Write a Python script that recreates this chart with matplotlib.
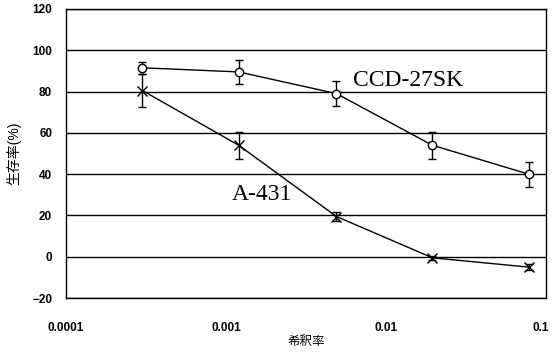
import numpy as np
import matplotlib.pyplot as plt
import matplotlib.transforms as mtransforms
from matplotlib.ticker import FixedLocator, FixedFormatter, NullLocator

plt.rcParams['font.family'] = ['Liberation Sans', 'Noto Sans CJK JP', 'DejaVu Sans']

# dilution series (1/4 steps)
dilution = [0.0003, 0.0012, 0.0049, 0.0195, 0.078]

ccd_mean = [91.5, 89.5, 79, 54, 40]
ccd_err = [3, 6, 6, 6.5, 6]

a431_mean = [80.5, 54, 19.5, -0.5, -5]
a431_err = [8, 6.5, 2, 1, 1.5]

xticks = [0.0001, 0.001, 0.01, 0.1]
xticklabels = ['0.0001', '0.001', '0.01', '0.1']
yticks = [-20, 0, 20, 40, 60, 80, 100, 120]

fig = plt.figure(figsize=(5.52, 3.57), dpi=100)
ax = fig.add_axes([0.1196, 0.165, 0.8696, 0.81])

ax.set_xscale('log')
ax.set_xlim(0.0001, 0.1)
ax.set_ylim(-20, 120)

for y in yticks:
    ax.axhline(y, color='black', lw=1.0, zorder=1)

ax.errorbar(dilution, ccd_mean, yerr=ccd_err, color='black', lw=1.0,
            marker='o', ms=6, mfc='white', mec='black', mew=1.0,
            capsize=3, elinewidth=1.0, capthick=1.0, zorder=3)
ax.errorbar(dilution, a431_mean, yerr=a431_err, color='black', lw=1.0,
            marker='x', ms=7, mew=1.0,
            capsize=3, elinewidth=1.0, capthick=1.0, zorder=3)

ax.text(0.0062, 85.5, 'CCD-27SK', family='Liberation Serif', fontsize=17,
        ha='left', va='center')
ax.text(0.00109, 30, 'A-431', family='Liberation Serif', fontsize=17,
        ha='left', va='center')

ax.xaxis.set_major_locator(FixedLocator(xticks))
ax.xaxis.set_major_formatter(FixedFormatter(xticklabels))
ax.xaxis.set_minor_locator(NullLocator())
ax.set_yticks(yticks)
ax.tick_params(axis='both', length=0, labelsize=8.5)
ax.tick_params(axis='x', pad=17)
ax.tick_params(axis='y', pad=10)
for lab in ax.get_xticklabels() + ax.get_yticklabels():
    lab.set_fontweight('bold')

# keep the last x label inside the figure
last = ax.get_xticklabels()[-1]
last.set_transform(last.get_transform() +
                   mtransforms.ScaledTranslation(-5 / 100, 0, fig.dpi_scale_trans))

for s in ax.spines.values():
    s.set_color('black')
    s.set_linewidth(1.0)

ax.set_ylabel('生存率(%)', fontsize=10, labelpad=8)
ax.set_xlabel('希釈率', fontsize=9, labelpad=2)

fig.savefig('out.png', dpi=100)
